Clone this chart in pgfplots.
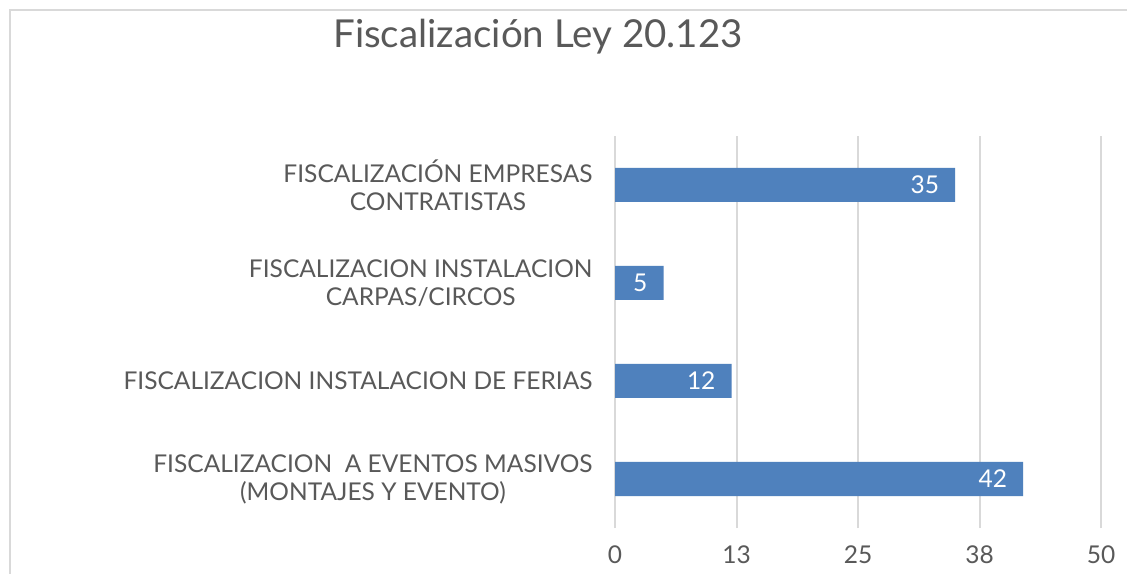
\documentclass[border=0pt]{standalone}
\usepackage{fontspec}
\setmainfont{Lato}
\usepackage{pgfplots}
\pgfplotsset{compat=1.18}
\definecolor{barblue}{HTML}{4F81BD}
\definecolor{gridgray}{HTML}{D9D9D9}
\definecolor{txt}{HTML}{595959}
\begin{document}
\begin{tikzpicture}[x=1pt,y=1pt]
\useasboundingbox (0,0) rectangle (1127,573);
\fill[white] (0,0) rectangle (1127,573);
\draw[gridgray, line width=1.2pt] (10,-5) -- (10,563) -- (1135,563);
\node[anchor=base, text=txt, font=\fontsize{38.5}{44}\selectfont] at (538,525) {Fiscalización Ley 20.123};
\begin{axis}[
  at={(615pt,45pt)}, anchor=south west,
  scale only axis, width=486pt, height=392pt,
  xbar, bar width=34pt,
  xmin=0, xmax=50, ymin=-0.5, ymax=3.5,
  xtick={0,12.5,25,37.5,50}, xticklabels={0,13,25,38,50},
  ytick={0,1,2,3},
  yticklabels={{FISCALIZACION\ \ A EVENTOS MASIVOS\\(MONTAJES Y EVENTO)}, FISCALIZACION INSTALACION DE FERIAS, {FISCALIZACION INSTALACION\\CARPAS/CIRCOS}, {FISCALIZACIÓN EMPRESAS\\CONTRATISTAS}},
  yticklabel style={align=center, inner sep=0pt, xshift=-18pt, text=txt, font=\fontsize{24.5}{28}\selectfont},
  xticklabel style={inner sep=0pt, yshift=-18pt, text=txt, font=\fontsize{24.5}{28}\selectfont},
  /pgf/number format/assume math mode=true,
  xmajorgrids, major grid style={gridgray, line width=2pt},
  axis line style={draw=none}, tick style={draw=none},
  nodes near coords,
  every node near coord/.append style={anchor=east, xshift=-16pt, text=white, font=\fontsize{24.5}{28}\selectfont, inner sep=0pt},
]
\addplot[fill=barblue, draw=none] coordinates {(42,0) (12,1) (5,2) (35,3)};
\end{axis}
\end{tikzpicture}
\end{document}
